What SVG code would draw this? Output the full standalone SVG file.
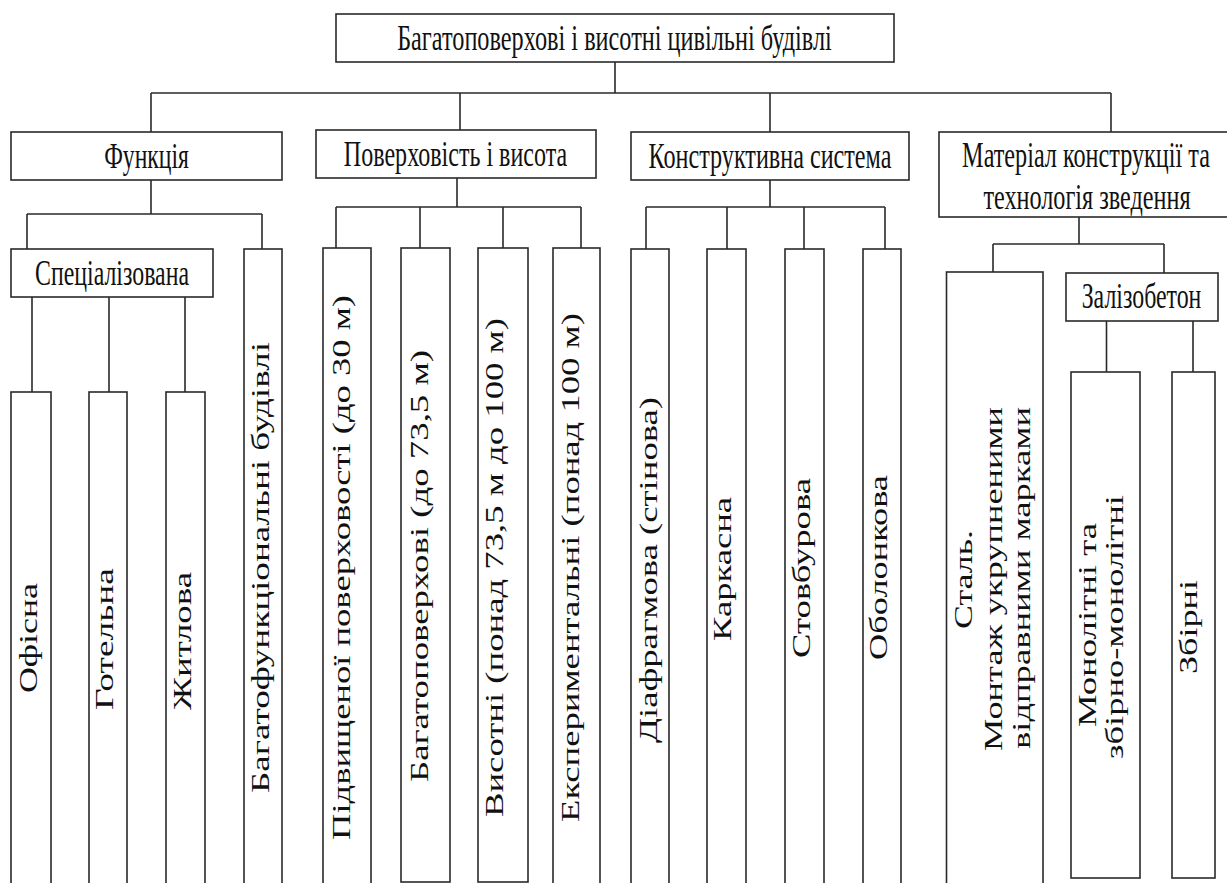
<svg xmlns="http://www.w3.org/2000/svg" width="1227" height="883" viewBox="0 0 1227 883">
<style>
rect{fill:#fff;stroke:#2a2a2a;stroke-width:1.6}
line,path{stroke:#2a2a2a;stroke-width:1.6;fill:none}
text{font-family:"Liberation Serif","Times New Roman",serif;fill:#111;font-size:36px}
.h{text-anchor:middle}
</style>
<rect x="0" y="0" width="1227" height="883" style="fill:#fff;stroke:none"/>
<g id="connectors">
<path d="M615,62V93M151,93H1111M151,93V132M460,93V130M770,93V132M1111,93V132"/>
<path d="M151,180V214M27,214H262M27,214V249M262,214V249"/>
<path d="M32,297V392M109,297V392M185,297V392"/>
<path d="M457,178V207M336,207H581M336,207V248M420,207V248M503,207V248M581,207V248"/>
<path d="M770,180V207M646,207H885M646,207V249M727,207V249M804,207V249M885,207V249"/>
<path d="M1079,217V244M993,244H1164M993,244V272M1164,244V273"/>
<path d="M1106.5,321V372M1193,321V372"/>
</g>
<g id="root"><rect x="336" y="14" width="558" height="48"/><text class="h" transform="translate(614.5,50) scale(0.7,1)" textLength="621" lengthAdjust="spacingAndGlyphs">Багатоповерхові і висотні цивільні будівлі</text></g>
<g id="funktsiia"><rect x="11" y="132" width="271" height="48"/><text class="h" transform="translate(146.5,168) scale(0.7,1)" textLength="121" lengthAdjust="spacingAndGlyphs">Функція</text></g>
<g id="poverkhovist"><rect x="316" y="130" width="280" height="48"/><text class="h" transform="translate(455.5,166) scale(0.7,1)" textLength="319" lengthAdjust="spacingAndGlyphs">Поверховість і висота</text></g>
<g id="konstruktyvna"><rect x="631" y="132" width="278" height="48"/><text class="h" transform="translate(770,168) scale(0.7,1)" textLength="347" lengthAdjust="spacingAndGlyphs">Конструктивна система</text></g>
<g id="material"><rect x="939" y="132" width="300" height="85"/><text class="h" transform="translate(1086,167) scale(0.7,1)" textLength="354" lengthAdjust="spacingAndGlyphs">Матеріал конструкції та</text><text class="h" transform="translate(1087,209) scale(0.7,1)" textLength="296" lengthAdjust="spacingAndGlyphs">технологія зведення</text></g>
<g id="spetsializovana"><rect x="11" y="249" width="202" height="48"/><text class="h" transform="translate(112,285) scale(0.7,1)" textLength="220" lengthAdjust="spacingAndGlyphs">Спеціалізована</text></g>
<g id="zalizobeton"><rect x="1066" y="273" width="152" height="48"/><text class="h" transform="translate(1141.5,308) scale(0.7,1)" textLength="171" lengthAdjust="spacingAndGlyphs">Залізобетон</text></g>
<g id="ofisna"><rect x="11" y="392" width="40" height="500"/><text transform="translate(37,693) scale(0.72,1) rotate(-90)" textLength="110" lengthAdjust="spacingAndGlyphs">Офісна</text></g>
<g id="hotelna"><rect x="89" y="392" width="38" height="500"/><text transform="translate(112.5,710) scale(0.72,1) rotate(-90)" textLength="142" lengthAdjust="spacingAndGlyphs">Готельна</text></g>
<g id="zhytlova"><rect x="166" y="392" width="39" height="500"/><text transform="translate(191,710) scale(0.72,1) rotate(-90)" textLength="138" lengthAdjust="spacingAndGlyphs">Житлова</text></g>
<g id="bahatofunktsionalni"><rect x="244" y="249" width="38" height="650"/><text transform="translate(268.5,793) scale(0.72,1) rotate(-90)" textLength="451" lengthAdjust="spacingAndGlyphs">Багатофункціональні будівлі</text></g>
<g id="pidvyshchenoi"><rect x="323" y="248" width="48" height="650"/><text transform="translate(350,840) scale(0.72,1) rotate(-90)" textLength="545" lengthAdjust="spacingAndGlyphs">Підвищеної поверховості (до 30 м)</text></g>
<g id="bahatopoverkhovi"><rect x="401" y="248" width="49" height="634"/><text transform="translate(428,782) scale(0.72,1) rotate(-90)" textLength="432" lengthAdjust="spacingAndGlyphs">Багатоповерхові (до 73,5 м)</text></g>
<g id="vysotni"><rect x="478" y="248" width="50" height="634"/><text transform="translate(503,817) scale(0.72,1) rotate(-90)" textLength="499" lengthAdjust="spacingAndGlyphs">Висотні (понад 73,5 м до 100 м)</text></g>
<g id="eksperymentalni"><rect x="553" y="248" width="47" height="650"/><text transform="translate(579,822) scale(0.72,1) rotate(-90)" textLength="509" lengthAdjust="spacingAndGlyphs">Експериментальні (понад 100 м)</text></g>
<g id="diafrahmova"><rect x="631" y="249" width="38" height="650"/><text transform="translate(657,743) scale(0.72,1) rotate(-90)" textLength="346" lengthAdjust="spacingAndGlyphs">Діафрагмова (стінова)</text></g>
<g id="karkasna"><rect x="707" y="249" width="39" height="650"/><text transform="translate(731,641) scale(0.72,1) rotate(-90)" textLength="144" lengthAdjust="spacingAndGlyphs">Каркасна</text></g>
<g id="stovburova"><rect x="785" y="249" width="39" height="650"/><text transform="translate(810,658) scale(0.72,1) rotate(-90)" textLength="180" lengthAdjust="spacingAndGlyphs">Стовбурова</text></g>
<g id="obolonkova"><rect x="863" y="249" width="38" height="650"/><text transform="translate(887,660) scale(0.72,1) rotate(-90)" textLength="185" lengthAdjust="spacingAndGlyphs">Оболонкова</text></g>
<g id="stal"><rect x="946.5" y="272" width="96.5" height="630"/><text transform="translate(971.5,629) scale(0.72,1) rotate(-90)" textLength="99" lengthAdjust="spacingAndGlyphs">Сталь.</text><text transform="translate(1002,751) scale(0.72,1) rotate(-90)" textLength="344" lengthAdjust="spacingAndGlyphs">Монтаж укрупненими</text><text transform="translate(1030,749) scale(0.72,1) rotate(-90)" textLength="342" lengthAdjust="spacingAndGlyphs">відправними марками</text></g>
<g id="monolitni"><rect x="1071" y="372" width="69" height="506"/><text transform="translate(1096,727) scale(0.72,1) rotate(-90)" textLength="204" lengthAdjust="spacingAndGlyphs">Монолітні та</text><text transform="translate(1123,759) scale(0.72,1) rotate(-90)" textLength="264" lengthAdjust="spacingAndGlyphs">збірно-монолітні</text></g>
<g id="zbirni"><rect x="1172" y="372" width="43" height="506"/><text transform="translate(1196.5,674) scale(0.72,1) rotate(-90)" textLength="94" lengthAdjust="spacingAndGlyphs">Збірні</text></g>
</svg>
